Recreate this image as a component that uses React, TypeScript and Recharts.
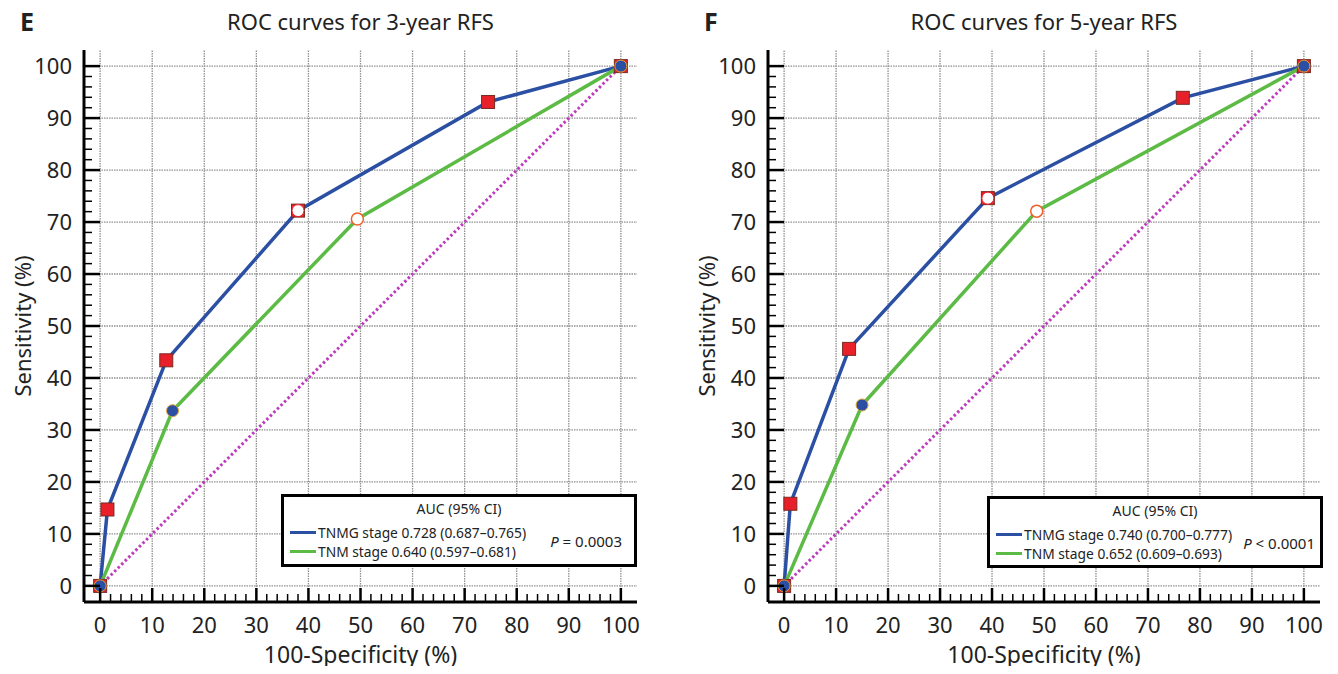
import React from "react";
import {
  ComposedChart,
  Line,
  Scatter,
  XAxis,
  YAxis,
  ReferenceLine,
} from "recharts";

// ---- data (100-specificity %, sensitivity %) ----
const rfs3TnmgX = [0, 1.4, 12.7, 38, 74.5, 100];
const rfs3TnmgY = [0, 14.7, 43.4, 72.2, 93.1, 100];
const rfs3TnmX = [0, 13.9, 49.4, 100];
const rfs3TnmY = [0, 33.7, 70.6, 100];

const rfs5TnmgX = [0, 1.2, 12.5, 39.2, 76.7, 100];
const rfs5TnmgY = [0, 15.8, 45.6, 74.6, 93.9, 100];
const rfs5TnmX = [0, 15, 48.6, 100];
const rfs5TnmY = [0, 34.8, 72.1, 100];

// index of the optimal criterion point on each curve
const optimalIdx = { rfs3: { tnmg: 3, tnm: 2 }, rfs5: { tnmg: 3, tnm: 2 } };

const legend3 = ["TNMG stage 0.728 (0.687–0.765)", "TNM stage 0.640 (0.597–0.681)"];
const legend5 = ["TNMG stage 0.740 (0.700–0.777)", "TNM stage 0.652 (0.609–0.693)"];

const majorTicks = [0, 10, 20, 30, 40, 50, 60, 70, 80, 90, 100];
const allTicks = Array.from({ length: 51 }, (_, i) => i * 2);
const diagonal = [
  { x: 0, y: 0 },
  { x: 100, y: 100 },
];

const FONT = "'Noto Sans', 'DejaVu Sans', sans-serif";
const BLUE = "#2b4fa3";
const GREEN = "#5cbb45";
const MAGENTA = "#bd3bbd";
const RED = "#e8202a";
const DOMAIN: [number, number] = [-3.1, 103.1];

const toPoints = (xs: number[], ys: number[], opt: number) =>
  xs.map((x, i) => ({ x, y: ys[i], opt: i === opt }));

const XTick = (props: any) => {
  const { x, y, payload } = props;
  const v = payload.value;
  const major = v % 10 === 0;
  return (
    <g>
      <line x1={x} x2={x} y1={y} y2={y - (major ? 14 : 8)} stroke="#000" strokeWidth={major ? 2.5 : 1.5} />
      {major && (
        <text x={x} y={y + 31} textAnchor="middle" fontSize={22} fill="#222" fontFamily={FONT}>
          {v}
        </text>
      )}
    </g>
  );
};

const YTick = (props: any) => {
  const { x, y, payload } = props;
  const v = payload.value;
  const major = v % 10 === 0;
  return (
    <g>
      <line x1={x} x2={x + (major ? 16 : 8)} y1={y} y2={y} stroke="#000" strokeWidth={major ? 2.5 : 1.5} />
      {major && (
        <text x={x - 12} y={y + 8} textAnchor="end" fontSize={22} fill="#222" fontFamily={FONT}>
          {v}
        </text>
      )}
    </g>
  );
};

const SquareDot = (p: any) => {
  const { cx, cy, payload } = p;
  return (
    <g>
      <rect x={cx - 6.5} y={cy - 6.5} width={13} height={13} fill={RED} stroke="#7a2a22" strokeWidth={1} />
      {payload.opt && <circle cx={cx} cy={cy} r={6} fill="#fff" stroke={RED} strokeWidth={1} />}
    </g>
  );
};

const CircleDot = (p: any) => {
  const { cx, cy, payload } = p;
  if (payload.opt) return <circle cx={cx} cy={cy} r={6} fill="#fff" stroke="#f0602a" strokeWidth={1.5} />;
  return <circle cx={cx} cy={cy} r={6} fill={BLUE} stroke="#e0a030" strokeWidth={1} />;
};

type PanelProps = {
  left: number;
  width: number;
  right: number;
  letter: string;
  title: string;
  tnmg: { x: number; y: number; opt: boolean }[];
  tnm: { x: number; y: number; opt: boolean }[];
  legend: string[];
  pText: React.ReactNode;
  pRight: number;
  box: { left: number; top: number; width: number; height: number };
};

const Panel = ({ left, width, right, letter, title, tnmg, tnm, legend, pText, pRight, box }: PanelProps) => {
  const plotLeft = 84;
  const plotRight = width - right;
  const center = (plotLeft + plotRight) / 2;
  return (
    <div style={{ position: "absolute", left, top: 0, width, height: 674, fontFamily: FONT, color: "#222" }}>
      <div style={{ position: "absolute", left: 20, top: 4, fontSize: 25, fontWeight: 700 }}>{letter}</div>
      <div
        style={{ position: "absolute", left: center - 200, width: 400, top: 6, textAlign: "center", fontSize: 22 }}
      >
        {title}
      </div>
      <div
        style={{
          position: "absolute",
          left: 22 - 150,
          width: 300,
          top: 326 - 15,
          textAlign: "center",
          fontSize: 22,
          transform: "rotate(-90deg)",
        }}
      >
        Sensitivity (%)
      </div>
      <ComposedChart
        width={width}
        height={674}
        margin={{ top: 50, right, bottom: 32, left: 24 }}
        style={{ position: "absolute", left: 0, top: 0 }}
      >
        <XAxis
          type="number"
          dataKey="x"
          domain={DOMAIN}
          allowDataOverflow
          ticks={allTicks}
          interval={0}
          tick={<XTick />}
          tickLine={false}
          tickSize={0}
          tickMargin={0}
          height={40}
          axisLine={{ stroke: "#000", strokeWidth: 3 }}
        />
        <YAxis
          type="number"
          dataKey="y"
          domain={DOMAIN}
          allowDataOverflow
          ticks={allTicks}
          interval={0}
          tick={<YTick />}
          tickLine={false}
          tickSize={0}
          tickMargin={0}
          width={60}
          axisLine={{ stroke: "#000", strokeWidth: 3 }}
        />
        {majorTicks.map((v) => (
          <ReferenceLine key={"gx" + v} x={v} stroke="#909090" strokeDasharray="1.5 1" strokeWidth={1.3} />
        ))}
        {majorTicks.map((v) => (
          <ReferenceLine key={"gy" + v} y={v} stroke="#909090" strokeDasharray="1.5 1" strokeWidth={1.3} />
        ))}
        <Line
          data={diagonal}
          dataKey="y"
          stroke={MAGENTA}
          strokeWidth={3}
          strokeDasharray="2.5 2.5"
          dot={false}
          isAnimationActive={false}
        />
        <Line data={tnmg} dataKey="y" stroke={BLUE} strokeWidth={3.5} dot={false} isAnimationActive={false} />
        <Line data={tnm} dataKey="y" stroke={GREEN} strokeWidth={3.5} dot={false} isAnimationActive={false} />
        <Scatter data={tnmg} dataKey="y" shape={<SquareDot />} isAnimationActive={false} />
        <Scatter data={tnm} dataKey="y" shape={<CircleDot />} isAnimationActive={false} />
      </ComposedChart>
      <div
        style={{
          position: "absolute",
          left: center - 200,
          width: 400,
          top: 643,
          lineHeight: "23px",
          textAlign: "center",
          fontSize: 23,
        }}
      >
        100-Specificity (%)
      </div>
      <div
        style={{
          position: "absolute",
          left: box.left,
          top: box.top,
          width: box.width,
          height: box.height,
          border: "3px solid #000",
          background: "#fff",
          boxSizing: "border-box",
          fontSize: 13.8,
        }}
      >
        <div style={{ position: "absolute", left: 0, right: 0, top: 2, textAlign: "center", fontSize: 14 }}>
          AUC (95% CI)
        </div>
        {legend.map((t, i) => (
          <div
            key={t}
            style={{ position: "absolute", left: 6, top: 26 + i * 19, display: "flex", alignItems: "center" }}
          >
            <span
              style={{ display: "inline-block", width: 26, height: 3, background: i === 0 ? BLUE : GREEN, marginRight: 2 }}
            />
            <span>{t}</span>
          </div>
        ))}
        <div style={{ position: "absolute", right: pRight, top: 34, fontSize: 15 }}>{pText}</div>
      </div>
    </div>
  );
};

export default function App() {
  const o = optimalIdx;
  return (
    <div style={{ position: "relative", margin: -8, width: 1338, height: 674, background: "#fff" }}>
      <Panel
        left={0}
        width={660}
        right={23}
        letter="E"
        title="ROC curves for 3-year RFS"
        tnmg={toPoints(rfs3TnmgX, rfs3TnmgY, o.rfs3.tnmg)}
        tnm={toPoints(rfs3TnmX, rfs3TnmY, o.rfs3.tnm)}
        legend={legend3}
        pText={
          <>
            <i>P</i> = 0.0003
          </>
        }
        pRight={12}
        box={{ left: 281, top: 494, width: 356, height: 73 }}
      />
      <Panel
        left={684}
        width={654}
        right={18}
        letter="F"
        title="ROC curves for 5-year RFS"
        tnmg={toPoints(rfs5TnmgX, rfs5TnmgY, o.rfs5.tnmg)}
        tnm={toPoints(rfs5TnmX, rfs5TnmY, o.rfs5.tnm)}
        legend={legend5}
        pText={
          <>
            <i>P</i> &lt; 0.0001
          </>
        }
        pRight={5}
        box={{ left: 987 - 684, top: 496, width: 336, height: 72 }}
      />
    </div>
  );
}
